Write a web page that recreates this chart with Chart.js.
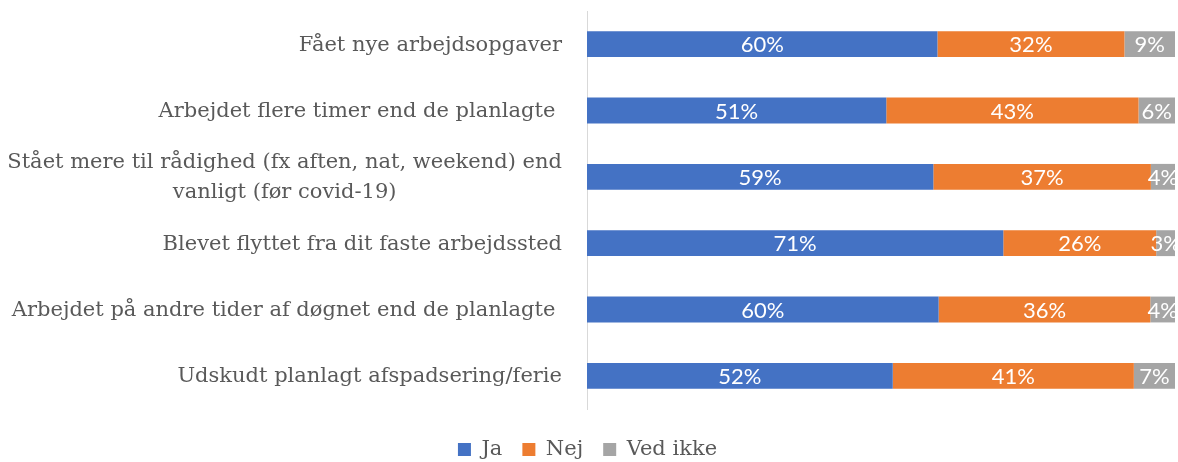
<!DOCTYPE html>
<html>
<head>
<meta charset="utf-8">
<script src="https://cdn.jsdelivr.net/npm/chart.js@4"></script>
<style>
  html, body { margin: 0; padding: 0; background: #fff; }
  #wrap { width: 1178px; height: 462px; }
</style>
</head>
<body>
<div id="wrap"><canvas id="svarChart"></canvas></div>
<script>
// Spoergsmaal (kategorier) og andele i procent
const categories = [
  'Fået nye arbejdsopgaver',
  'Arbejdet flere timer end de planlagte ',
  ['Stået mere til rådighed (fx aften, nat, weekend) end', 'vanligt (før covid-19)'],
  'Blevet flyttet fra dit faste arbejdssted',
  'Arbejdet på andre tider af døgnet end de planlagte ',
  'Udskudt planlagt afspadsering/ferie'
];
const ja      = [59.6, 50.9, 58.9, 70.8, 59.8, 52.0];
const nej     = [31.8, 42.9, 37.0, 26.0, 36.0, 41.0];
const vedIkke = [8.6, 6.2, 4.1, 3.2, 4.2, 7.0];

const labelFont = '"DejaVu Serif"';
const textColor = '#595959';

// kategori-tekster tegnes selv, saa flerlinjede labels centreres som i Excel
const categoryLabels = {
  id: 'categoryLabels',
  afterDraw(chart) {
    const ctx = chart.ctx;
    const y = chart.scales.y;
    ctx.save();
    ctx.font = '21px ' + labelFont;
    ctx.fillStyle = textColor;
    ctx.textBaseline = 'middle';
    ctx.textAlign = 'center';
    categories.forEach((label, i) => {
      const lines = [].concat(label);
      const blockW = Math.max(...lines.map(l => ctx.measureText(l).width));
      const cx = chart.chartArea.left - 25 - blockW / 2;
      const yc = y.getPixelForValue(i) + 1;
      lines.forEach((l, j) => {
        ctx.fillText(l, cx, yc + (j - (lines.length - 1) / 2) * 30);
      });
    });
    ctx.restore();
  }
};

// procent-tal midt i hvert segment
const valueLabels = {
  id: 'valueLabels',
  afterDatasetsDraw(chart) {
    const ctx = chart.ctx;
    ctx.save();
    ctx.font = 'normal 400 22px Lato';
    ctx.fillStyle = '#ffffff';
    ctx.textBaseline = 'middle';
    ctx.textAlign = 'center';
    chart.data.datasets.forEach((ds, di) => {
      chart.getDatasetMeta(di).data.forEach((bar, i) => {
        const p = bar.getCenterPoint();
        ctx.fillText(Math.round(ds.data[i]) + '%', p.x, p.y + 1);
      });
    });
    ctx.restore();
  }
};

// legenden skubbes lidt ned mod bunden
const legendShift = {
  id: 'legendShift',
  beforeLayout(chart) {
    const lg = chart.legend;
    if (lg && !lg._shifted) {
      const fit = lg.fit;
      lg.fit = function () { fit.call(this); this.height -= 10; };
      lg._shifted = true;
    }
  }
};

new Chart(document.getElementById('svarChart'), {
  type: 'bar',
  data: {
    labels: categories,
    datasets: [
      { label: 'Ja', data: ja, backgroundColor: '#4472C4' },
      { label: 'Nej', data: nej, backgroundColor: '#ED7D31' },
      { label: 'Ved ikke', data: vedIkke, backgroundColor: '#A5A5A5' }
    ]
  },
  options: {
    indexAxis: 'y',
    responsive: true,
    maintainAspectRatio: false,
    animation: false,
    layout: { padding: { top: 11, right: 3, bottom: 2, left: 0 } },
    datasets: { bar: { barPercentage: 0.78, categoryPercentage: 0.5 } },
    scales: {
      x: {
        stacked: true, min: 0, max: 100,
        grid: { display: false, drawTicks: false },
        border: { display: false },
        ticks: { display: false },
        afterFit(scale) { scale.height = 10; }
      },
      y: {
        stacked: true,
        grid: { display: false, drawTicks: false },
        border: { display: true, color: '#d9d9d9', width: 1 },
        ticks: { display: false },
        afterFit(scale) { scale.width = 587; }
      }
    },
    plugins: {
      legend: {
        position: 'bottom',
        labels: {
          boxWidth: 13,
          boxHeight: 13,
          padding: 20,
          color: textColor,
          font: { family: 'DejaVu Serif', size: 21 }
        }
      },
      tooltip: { enabled: false }
    }
  },
  plugins: [categoryLabels, valueLabels, legendShift]
});
</script>
</body>
</html>
